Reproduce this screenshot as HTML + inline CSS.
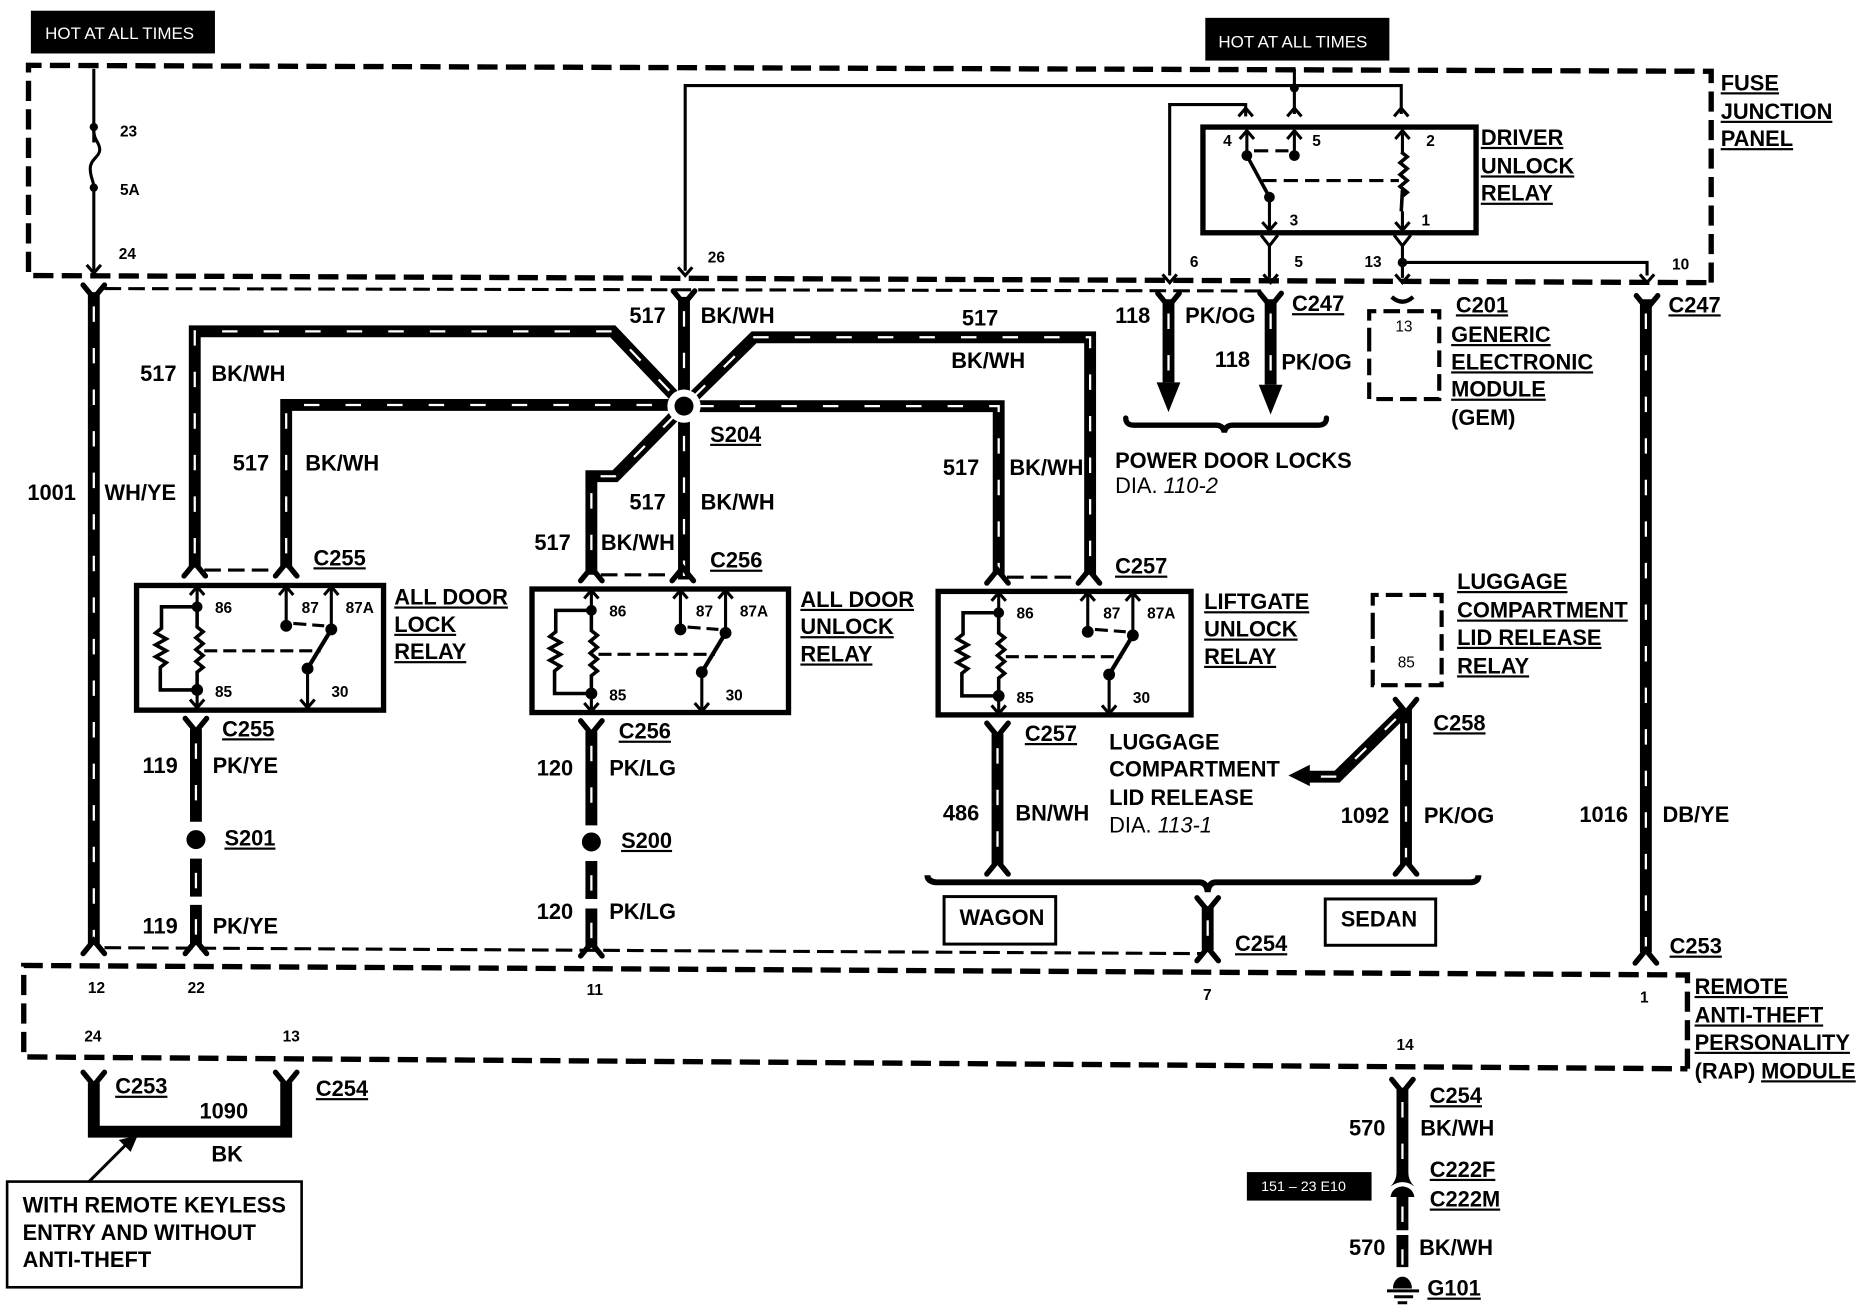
<!DOCTYPE html>
<html><head><meta charset="utf-8"><style>
html,body{margin:0;padding:0;background:#fff;width:1862px;height:1312px;overflow:hidden}
svg{display:block}
text{font-family:"Liberation Sans",sans-serif;font-weight:bold;font-size:18.4px;fill:#000}
.u{text-decoration:underline;text-underline-offset:4px;text-decoration-thickness:2px}
.s{font-size:13px}
.n{font-weight:normal}
.i{font-style:italic;font-weight:normal}
.w{fill:#fff;font-weight:normal}
.t{fill:none;stroke:#000;stroke-width:2.6}
.dh{fill:none;stroke:#000;stroke-width:4.5;stroke-dasharray:17 7}
.dm{fill:none;stroke:#000;stroke-width:3.5;stroke-dasharray:14 6}
.dt{fill:none;stroke:#000;stroke-width:2.6;stroke-dasharray:14 6}
.f{fill:none;stroke:#000;stroke-width:4.5;stroke-linecap:round}
</style></head><body>
<svg xmlns="http://www.w3.org/2000/svg" width="1862" height="1312" viewBox="0 0 1568 1104.8">
<defs>
<g id="wires" fill="none">
<path d="M79 246V795"/>
<path d="M576 250V488"/>
<path d="M164 478V279H516L576 342"/>
<path d="M241 478V341H576"/>
<path d="M576 342L635 284H918V484"/>
<path d="M576 342H841V484"/>
<path d="M576 342L518 401H498V484"/>
<path d="M165 614V692"/><path d="M165 723V755"/><path d="M165 762V795"/>
<path d="M498 616V695"/><path d="M498 725V757"/><path d="M498 765V798"/>
<path d="M840 618V728"/>
<path d="M1184 597V728"/>
<path d="M1184 597L1126 654H1102"/>
<path d="M1017 763V800"/>
<path d="M1386 252V802"/>
<path d="M984 252V322"/>
<path d="M1070 252V324"/>
<path d="M1181 916V992"/>
<path d="M1181 1004V1036"/><path d="M1181 1040V1067"/>
</g>
<path id="au" class="t" d="M-6 7L0 0L6 7"/>
<path id="ad" class="t" d="M-6 -7L0 0L6 -7"/>
<path id="y" class="f" d="M-9 -7L0 4L9 -7"/>
<path id="l" class="f" d="M-9 7L0 -4L9 7"/>
<path id="c" fill="none" stroke="#000" stroke-width="3" d="M0 0l5 4-6 5 6 5-6 5 6 5-6 5 6 5-5 4"/>
<g id="relay">
<path class="t" d="M51 2V19M51 89V106M126 2V35M164 2V38M144 71V104"/>
<path fill="none" stroke="#000" stroke-width="3" d="M51 19H21V37l-5 4 9 5-9 5 9 5-9 5 9 5-5 4V89H51"/>
<path fill="none" stroke="#000" stroke-width="3" d="M51 19V36l5 4-6 5 6 5-6 5 6 5-6 5 6 5-5 4V89"/>
<use href="#au" x="51" y="2"/><use href="#au" x="126" y="2"/><use href="#au" x="164" y="2"/>
<use href="#ad" x="51" y="104"/><use href="#ad" x="144" y="104"/>
<circle cx="51" cy="19" r="4.5"/><circle cx="51" cy="89" r="5"/><circle cx="126" cy="35" r="5"/><circle cx="164" cy="38" r="5"/><circle cx="144" cy="71" r="5"/>
<path fill="none" stroke="#000" stroke-width="3.5" d="M164 38L144 71"/>
<path class="t" stroke-dasharray="11 5" d="M57 56H155M132 33L158 35"/>
<text class="s" x="66" y="24">86</text><text class="s" x="139" y="24">87</text><text class="s" x="176" y="24">87A</text>
<text class="s" x="66" y="95">85</text><text class="s" x="164" y="95">30</text>
</g>
</defs>

<rect x="26" y="9" width="155" height="36"/>
<text class="w" style="font-size:14.3px" x="38" y="33">HOT AT ALL TIMES</text>
<rect x="1015" y="15" width="155" height="36"/>
<text class="w" style="font-size:14.3px" x="1026" y="40">HOT AT ALL TIMES</text>
<rect x="1050" y="987" width="105" height="24"/>
<text class="w" style="font-size:12px" x="1062" y="1003">151 – 23 E10</text>

<path class="dh" d="M1441 238V60L24 55V232L1441 238"/>
<path class="dh" d="M1421 900V821L20 813V890L1421 900"/>
<path class="dt" d="M88 243L1068 245"/>
<path class="dt" d="M88 798L1012 803"/>
<path class="dt" d="M172 480H232M506 484H566M848 486H908"/>

<!-- thin top wiring -->
<path class="t" d="M79 58V120M79 158V228"/>
<circle cx="79" cy="107" r="3.5"/><circle cx="79" cy="158" r="3.5"/>
<path class="t" d="M79 110c0 8 5 10 5 16s-8 8-8 16 3 10 3 16"/>
<use href="#ad" x="79" y="230"/>
<path class="t" d="M577 228V72H1180V96M1090 58V96M985 232V88H1049V98"/>
<circle cx="1090" cy="74" r="3.8"/>
<use href="#ad" x="577" y="232"/><use href="#ad" x="985" y="238"/><use href="#ad" x="1070" y="238"/><use href="#ad" x="1181" y="238"/><use href="#ad" x="1387" y="238"/>
<use href="#au" x="1049" y="91"/><use href="#au" x="1090" y="91"/><use href="#au" x="1180" y="91"/>

<!-- driver relay -->
<rect x="1013" y="107" width="230" height="89" fill="none" stroke="#000" stroke-width="4.5"/>
<path class="t" d="M1050 110V131M1090 110V131M1069 166V194M1181 110V128M1181 178V194"/>
<use href="#au" x="1050" y="110"/><use href="#au" x="1090" y="110"/><use href="#au" x="1181" y="110"/>
<use href="#ad" x="1069" y="194"/><use href="#ad" x="1181" y="194"/>
<circle cx="1050" cy="131" r="4.5"/><circle cx="1090" cy="131" r="4.5"/><circle cx="1069" cy="166" r="4.5"/>
<path fill="none" stroke="#000" stroke-width="3" d="M1050 131L1069 166"/>
<path class="t" stroke-dasharray="12 6" d="M1063 152H1178M1056 127H1085"/>
<use href="#c" x="1180" y="128"/>
<path fill="none" stroke="#000" stroke-width="3" d="M1181 160l-1 18"/>
<path class="t" d="M1069 205V234M1181 205V234M1181 221H1387V232"/>
<path class="t" d="M1062 198L1069 207L1076 198M1174 198L1181 207L1188 198"/>
<circle cx="1181" cy="221" r="4"/>

<!-- thick wires -->
<use href="#wires" stroke="#000" stroke-width="10"/>
<use href="#wires" stroke="#fff" stroke-width="1.9" stroke-dasharray="13 22" stroke-dashoffset="-12"/>
<circle cx="576" cy="342" r="14" fill="#fff"/><circle cx="576" cy="342" r="8"/>
<circle cx="165" cy="707" r="8"/><circle cx="498" cy="709" r="8"/>

<!-- forks -->
<use href="#y" x="79" y="247"/><use href="#y" x="576" y="252"/><use href="#y" x="984" y="254"/><use href="#y" x="1070" y="254"/><use href="#y" x="1387" y="256"/>
<use href="#l" x="164" y="478"/><use href="#l" x="241" y="478"/><use href="#l" x="498" y="482"/><use href="#l" x="575" y="482"/><use href="#l" x="840" y="484"/><use href="#l" x="917" y="484"/>
<use href="#y" x="165" y="612"/><use href="#y" x="498" y="614"/><use href="#y" x="840" y="616"/><use href="#y" x="1184" y="596"/><use href="#y" x="1017" y="763"/>
<use href="#l" x="79" y="796"/><use href="#l" x="165" y="796"/><use href="#l" x="498" y="798"/><use href="#l" x="1017" y="802"/><use href="#l" x="1386" y="804"/>
<use href="#l" x="840" y="729"/><use href="#l" x="1184" y="729"/>
<use href="#y" x="1181" y="916"/>
<path d="M1171 999Q1176 994 1176 988H1186Q1186 994 1191 999Q1181 992 1171 999Z"/>
<path d="M1181 999Q1190 1000 1191 1008H1171Q1172 1000 1181 999Z"/>

<!-- arrowheads -->
<path d="M974 322H994L984 347ZM1060 324H1080L1070 349ZM1103 644V662L1085 653Z"/>

<!-- braces -->
<path class="f" d="M948 352Q948 358 955 358H1024Q1030 358 1031 364Q1032 358 1038 358H1110Q1117 358 1117 352"/>
<path d="M781 737Q781 742 788 743H1010Q1016 743 1017 751Q1018 743 1024 743H1238Q1245 743 1245 737" fill="none" stroke="#000" stroke-width="5"/>

<!-- relays -->
<rect x="115" y="493" width="208" height="105" fill="none" stroke="#000" stroke-width="4.5"/>
<use href="#relay" x="115" y="492"/>
<rect x="448" y="496" width="216" height="104" fill="none" stroke="#000" stroke-width="4.5"/>
<use href="#relay" x="447" y="495"/>
<rect x="790" y="498" width="213" height="104" fill="none" stroke="#000" stroke-width="4.5"/>
<use href="#relay" x="790" y="497"/>

<!-- dashed component boxes -->
<path class="dm" d="M1153 290V262H1212V336H1153V290" stroke-dasharray="16 8"/>
<path d="M1172 250Q1181 258 1190 250" fill="none" stroke="#000" stroke-width="3.5"/>
<path class="dm" d="M1156 530V501H1214V577H1156V530" stroke-dasharray="16 8"/>

<!-- boxes -->
<rect x="795" y="755" width="94" height="40" fill="none" stroke="#000" stroke-width="2.5"/>
<rect x="1116" y="757" width="93" height="39" fill="none" stroke="#000" stroke-width="2.5"/>
<rect x="6" y="995" width="248" height="89" fill="none" stroke="#000" stroke-width="2.2"/>

<!-- 1090 -->
<path fill="none" stroke="#000" stroke-width="10" d="M79 912V953H241V912"/>
<use href="#y" x="79" y="910"/><use href="#y" x="241" y="910"/>
<path fill="none" stroke="#000" stroke-width="2.5" d="M75 995L108 962"/>
<path d="M116 956L100 960L110 970Z"/>

<!-- ground -->
<path d="M1173 1085a8 10 0 1 1 16 0z"/>
<path fill="none" stroke="#000" stroke-width="2.5" d="M1168 1087H1195M1174 1092H1190M1177 1097H1185"/>

<!-- pin numbers -->
<text class="s" x="101" y="115">23</text><text class="s" x="101" y="164">5A</text><text class="s" x="100" y="218">24</text><text class="s" x="596" y="221">26</text>
<text class="s" x="1030" y="123">4</text><text class="s" x="1105" y="123">5</text><text class="s" x="1201" y="123">2</text><text class="s" x="1086" y="190">3</text><text class="s" x="1197" y="190">1</text>
<text class="s" x="1002" y="225">6</text><text class="s" x="1090" y="225">5</text><text class="s" x="1149" y="225">13</text><text class="s" x="1408" y="227">10</text>
<text class="s n" x="1175" y="279">13</text><text class="s n" x="1177" y="562">85</text>
<text class="s" x="74" y="836">12</text><text class="s" x="158" y="836">22</text><text class="s" x="494" y="838">11</text><text class="s" x="1013" y="842">7</text><text class="s" x="1381" y="844">1</text>
<text class="s" x="71" y="877">24</text><text class="s" x="238" y="877">13</text><text class="s" x="1176" y="884">14</text>

<!-- labels -->
<text class="u" x="1449" y="76">FUSE</text><text class="u" x="1449" y="100">JUNCTION</text><text class="u" x="1449" y="123">PANEL</text>
<text class="u" x="1247" y="122">DRIVER</text><text class="u" x="1247" y="146">UNLOCK</text><text class="u" x="1247" y="169">RELAY</text>
<text x="530" y="272">517</text><text x="590" y="272">BK/WH</text><text x="810" y="274">517</text><text x="801" y="310">BK/WH</text>
<text x="118" y="321">517</text><text x="178" y="321">BK/WH</text><text x="196" y="396">517</text><text x="257" y="396">BK/WH</text>
<text class="u" x="598" y="372">S204</text>
<text x="530" y="429">517</text><text x="590" y="429">BK/WH</text><text x="450" y="463">517</text><text x="506" y="463">BK/WH</text>
<text x="794" y="400">517</text><text x="850" y="400">BK/WH</text>
<text x="23" y="421">1001</text><text x="88" y="421">WH/YE</text>
<text x="939" y="272">118</text><text x="998" y="272">PK/OG</text><text x="1023" y="309">118</text><text x="1079" y="311">PK/OG</text>
<text class="u" x="1088" y="262">C247</text><text class="u" x="1405" y="263">C247</text>
<text class="u" x="1226" y="263">C201</text><text class="u" x="1222" y="288">GENERIC</text><text class="u" x="1222" y="311">ELECTRONIC</text><text class="u" x="1222" y="334">MODULE</text><text x="1222" y="358">(GEM)</text>
<text x="939" y="394">POWER DOOR LOCKS</text>
<text class="n" x="939" y="415">DIA. <tspan class="i">110-2</tspan></text>
<text class="u" x="264" y="476">C255</text><text class="u" x="598" y="478">C256</text><text class="u" x="939" y="483">C257</text>
<text class="u" x="332" y="509">ALL DOOR</text><text class="u" x="332" y="532">LOCK</text><text class="u" x="332" y="555">RELAY</text>
<text class="u" x="674" y="511">ALL DOOR</text><text class="u" x="674" y="534">UNLOCK</text><text class="u" x="674" y="557">RELAY</text>
<text class="u" x="1014" y="513">LIFTGATE</text><text class="u" x="1014" y="536">UNLOCK</text><text class="u" x="1014" y="559">RELAY</text>
<text class="u" x="1227" y="496">LUGGAGE</text><text class="u" x="1227" y="520">COMPARTMENT</text><text class="u" x="1227" y="543">LID RELEASE</text><text class="u" x="1227" y="567">RELAY</text>
<text class="u" x="1207" y="615">C258</text>
<text class="u" x="187" y="620">C255</text><text class="u" x="521" y="622">C256</text><text class="u" x="863" y="624">C257</text>
<text x="120" y="651">119</text><text x="179" y="651">PK/YE</text><text x="452" y="653">120</text><text x="513" y="653">PK/LG</text>
<text class="u" x="189" y="712">S201</text><text class="u" x="523" y="714">S200</text>
<text x="794" y="691">486</text><text x="855" y="691">BN/WH</text>
<text x="934" y="631">LUGGAGE</text><text x="934" y="654">COMPARTMENT</text><text x="934" y="678">LID RELEASE</text>
<text class="n" x="934" y="701">DIA. <tspan class="i">113-1</tspan></text>
<text x="1129" y="693">1092</text><text x="1199" y="693">PK/OG</text><text x="1330" y="692">1016</text><text x="1400" y="692">DB/YE</text>
<text x="120" y="786">119</text><text x="179" y="786">PK/YE</text><text x="452" y="774">120</text><text x="513" y="774">PK/LG</text>
<text x="808" y="779">WAGON</text><text x="1129" y="780">SEDAN</text>
<text class="u" x="1040" y="801">C254</text><text class="u" x="1406" y="803">C253</text>
<text class="u" x="1427" y="837">REMOTE</text><text class="u" x="1427" y="861">ANTI-THEFT</text><text class="u" x="1427" y="884">PERSONALITY</text><text x="1427" y="908">(RAP)</text><text class="u" x="1483" y="908">MODULE</text>
<text class="u" x="97" y="921">C253</text><text class="u" x="266" y="923">C254</text><text x="168" y="942">1090</text><text x="178" y="978">BK</text>
<text x="19" y="1021">WITH REMOTE KEYLESS</text><text x="19" y="1044">ENTRY AND WITHOUT</text><text x="19" y="1067">ANTI-THEFT</text>
<text x="1136" y="956">570</text><text x="1196" y="956">BK/WH</text><text class="u" x="1204" y="929">C254</text>
<text class="u" x="1204" y="991">C222F</text><text class="u" x="1204" y="1016">C222M</text>
<text x="1136" y="1057">570</text><text x="1195" y="1057">BK/WH</text><text class="u" x="1202" y="1091">G101</text>
</svg>
</body></html>
